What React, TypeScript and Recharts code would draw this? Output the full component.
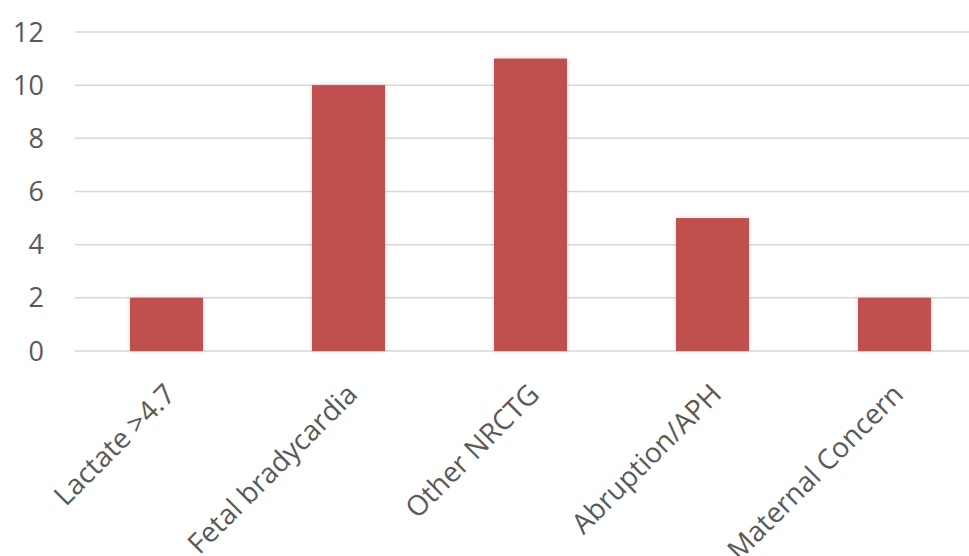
import { BarChart, Bar, XAxis, YAxis, CartesianGrid } from "recharts";

const categories = ["Lactate >4.7", "Fetal bradycardia", "Other NRCTG", "Abruption/APH", "Maternal Concern"];
const counts = [2, 10, 11, 5, 2];
const yTicks = [0, 2, 4, 6, 8, 10, 12];

const data = categories.map((name, i) => ({ name, count: counts[i] }));

const FONT = "'Open Sans', sans-serif";
const TEXT = "#595959";

interface TickProps {
  x?: number;
  y?: number;
  payload?: { value?: string | number };
}

// Category labels slanted up to the right, ending just past the bar centre
const renderCategoryTick = ({ x = 0, y = 0, payload }: TickProps) => (
  <g transform={`translate(${x + 11},${y + 37})`}>
    <text x={0} y={0} textAnchor="end" transform="rotate(-45)" fill={TEXT} fontSize={28} fontFamily={FONT}>
      {payload?.value}
    </text>
  </g>
);

const renderBar = (props: any) => {
  const { x, y, width, height, fill } = props;
  return (
    <rect x={x} y={y} width={width} height={height} fill={fill} style={{ filter: "drop-shadow(0px 0px 2px rgba(0,0,0,0.18))" }} />
  );
};

export default function App() {
  return (
    <div style={{ position: "absolute", left: 0, top: 0, width: 969, height: 556, overflow: "hidden", background: "#fff" }}>
      <BarChart width={990} height={556} data={data} margin={{ top: 32, right: 5, left: 0, bottom: 5 }} barSize={73}>
        <CartesianGrid vertical={false} stroke="#d9d9d9" strokeWidth={1.5} />
        <XAxis dataKey="name" axisLine={false} tickLine={false} height={200} interval={0} tick={renderCategoryTick} />
        <YAxis
          width={75}
          domain={[0, 12]}
          ticks={yTicks}
          axisLine={false}
          tickLine={false}
          tickMargin={25}
          tick={{ fill: TEXT, fontSize: 27, fontFamily: FONT }}
        />
        <Bar dataKey="count" fill="#c0504d" isAnimationActive={false} shape={renderBar} />
      </BarChart>
    </div>
  );
}
